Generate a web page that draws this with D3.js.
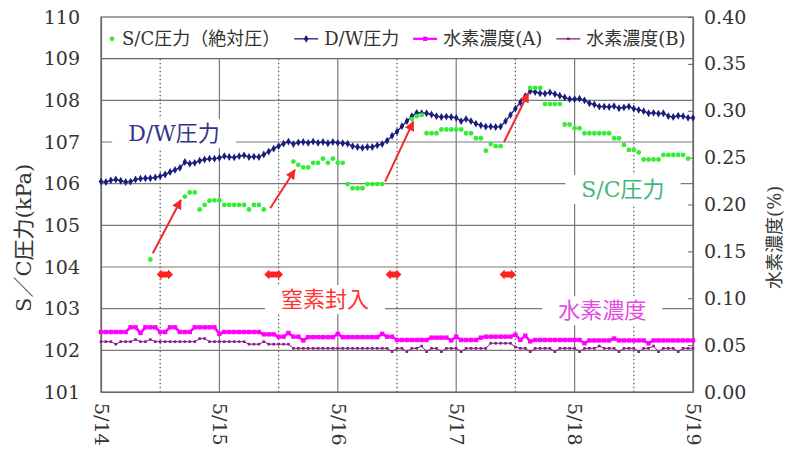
<!DOCTYPE html>
<html>
<head>
<meta charset="utf-8">
<script src="https://cdn.jsdelivr.net/npm/d3@7"></script>
<style>
  body { margin: 0; background: #fff; }
  svg { display: block; }
</style>
</head>
<body>
<svg id="chart" width="791" height="459"></svg>
<script>
// ---- data (hourly, starting 5/14 00:00) ----
const days = ["5/14", "5/15", "5/16", "5/17", "5/18", "5/19"];
const leftTicks = [101, 102, 103, 104, 105, 106, 107, 108, 109, 110];
const rightTicks = [0, 0.05, 0.10, 0.15, 0.20, 0.25, 0.30, 0.35, 0.40];

// D/W pressure (kPa), one value per hour, h = 0..120
const dwPressure = [
  106.05, 106.04, 106.08, 106.10, 106.07, 106.04, 106.05, 106.10, 106.12, 106.13, 106.13, 106.15,
  106.18, 106.22, 106.28, 106.33, 106.38, 106.52, 106.48, 106.50, 106.55, 106.58, 106.60, 106.60,
  106.62, 106.66, 106.64, 106.63, 106.66, 106.68, 106.64, 106.65, 106.64, 106.70, 106.77, 106.84,
  106.90, 106.96, 107.01, 106.95, 106.99, 107.00, 106.98, 107.01, 106.98, 107.00, 106.97, 107.00,
  106.98, 106.97, 106.96, 106.90, 106.88, 106.86, 106.88, 106.88, 106.92, 106.95, 107.03, 107.15,
  107.25, 107.38, 107.50, 107.62, 107.70, 107.69, 107.69, 107.66, 107.62, 107.60, 107.61, 107.60,
  107.58, 107.50, 107.55, 107.50, 107.44, 107.40, 107.37, 107.37, 107.36, 107.37, 107.50, 107.65,
  107.80, 107.95, 108.10, 108.22, 108.20, 108.17, 108.16, 108.19, 108.15, 108.11, 108.07, 108.03,
  108.03, 108.04, 108.00, 107.93, 107.90, 107.85, 107.85, 107.84, 107.86, 107.81, 107.83, 107.85,
  107.80, 107.77, 107.74, 107.69, 107.70, 107.68, 107.69, 107.62, 107.60, 107.63, 107.62, 107.58,
  107.58
];

// S/C pressure (absolute, kPa): sampled hours and values
const scHours = [
  10, 17, 18, 19, 20, 21, 22, 23, 24, 25, 26, 27, 28, 29, 30, 31, 32, 33,
  39, 40, 41, 42, 43, 44, 45, 46, 47, 48, 49,
  50, 51, 52, 53, 54, 55, 56, 57,
  63, 64, 65, 66, 67, 68, 69, 70, 71, 72, 73, 74, 75, 76, 77, 78, 79, 80, 81,
  87, 88, 89, 90, 91, 92, 93, 94, 95, 96, 97, 98, 99, 100, 101, 102, 103,
  104, 105, 106, 107, 108, 109, 110, 111, 112, 113, 114, 115, 116, 117, 118, 119
];
const scPressure = [
  104.18, 105.69, 105.79, 105.79, 105.38, 105.49, 105.59, 105.60, 105.60, 105.49, 105.49, 105.49, 105.49, 105.49, 105.38, 105.49, 105.49, 105.38,
  106.53, 106.45, 106.39, 106.39, 106.50, 106.50, 106.60, 106.50, 106.60, 106.50, 106.50,
  105.99, 105.89, 105.89, 105.89, 105.99, 105.99, 105.99, 105.99,
  107.55, 107.62, 107.65, 107.21, 107.21, 107.21, 107.30, 107.30, 107.30, 107.30, 107.30, 107.21, 107.21, 107.09, 107.09, 106.79, 106.95, 106.90, 106.90,
  108.30, 108.30, 108.30, 107.91, 107.91, 107.91, 107.91, 107.42, 107.42, 107.33, 107.33, 107.21, 107.21, 107.21, 107.21, 107.21, 107.21,
  107.09, 107.09, 106.93, 106.81, 106.81, 106.75, 106.58, 106.58, 106.58, 106.58, 106.69, 106.69, 106.69, 106.69, 106.69, 106.60
];

// Hydrogen concentration (%), hourly, h = 0..120
const h2A = [
  0.064, 0.064, 0.064, 0.064, 0.064, 0.064, 0.069, 0.069, 0.063, 0.069, 0.069, 0.069,
  0.064, 0.064, 0.069, 0.069, 0.064, 0.064, 0.064, 0.069, 0.069, 0.069, 0.069, 0.069,
  0.062, 0.064, 0.064, 0.064, 0.064, 0.064, 0.064, 0.064, 0.064, 0.0615, 0.0615, 0.0615,
  0.059, 0.059, 0.063, 0.059, 0.059, 0.055, 0.0585, 0.0585, 0.0585, 0.0585, 0.0585, 0.0585,
  0.062, 0.0585, 0.0585, 0.0585, 0.0585, 0.0585, 0.0585, 0.0585, 0.0585, 0.062, 0.059, 0.059,
  0.0555, 0.0555, 0.0555, 0.0555, 0.0555, 0.0555, 0.0555, 0.058, 0.058, 0.058, 0.058, 0.055,
  0.059, 0.0555, 0.0555, 0.0555, 0.0555, 0.058, 0.059, 0.059, 0.059, 0.059, 0.059, 0.059,
  0.061, 0.0555, 0.060, 0.054, 0.0555, 0.0555, 0.0555, 0.0555, 0.0555, 0.0555, 0.0555, 0.0555,
  0.0555, 0.0555, 0.052, 0.055, 0.055, 0.055, 0.055, 0.055, 0.057, 0.055, 0.055, 0.055,
  0.055, 0.055, 0.055, 0.052, 0.055, 0.055, 0.055, 0.055, 0.055, 0.055, 0.055, 0.055,
  0.055
];
const h2B = [
  0.0537, 0.0537, 0.0537, 0.051, 0.0537, 0.0537, 0.0537, 0.056, 0.0537, 0.0537, 0.056, 0.0537,
  0.0537, 0.0537, 0.0537, 0.0537, 0.0537, 0.0537, 0.0537, 0.0537, 0.057, 0.057, 0.0537, 0.0537,
  0.0537, 0.0537, 0.0537, 0.0537, 0.0537, 0.0537, 0.051, 0.051, 0.051, 0.0537, 0.051, 0.051,
  0.051, 0.051, 0.051, 0.0466, 0.0466, 0.0466, 0.0466, 0.0466, 0.0466, 0.0466, 0.0466, 0.0466,
  0.0466, 0.0466, 0.0466, 0.0466, 0.0466, 0.0466, 0.0466, 0.0466, 0.0466, 0.0466, 0.0466, 0.043,
  0.0466, 0.0466, 0.043, 0.0466, 0.0466, 0.049, 0.043, 0.0466, 0.0466, 0.043, 0.0466, 0.0466,
  0.0466, 0.043, 0.0466, 0.0466, 0.0466, 0.0466, 0.0466, 0.052, 0.052, 0.052, 0.052, 0.052,
  0.048, 0.0466, 0.0466, 0.043, 0.0466, 0.0466, 0.0466, 0.0466, 0.043, 0.0466, 0.0466, 0.0466,
  0.0466, 0.043, 0.0466, 0.0466, 0.0466, 0.049, 0.0466, 0.0466, 0.0466, 0.043, 0.0466, 0.0466,
  0.0466, 0.043, 0.0466, 0.0466, 0.049, 0.043, 0.0466, 0.0466, 0.0466, 0.043, 0.0466, 0.0466,
  0.0466
];

// nitrogen injection periods [start hour, end hour]
const injections = [[11.3, 14.6], [33.1, 36.9], [57.7, 60.9], [80.8, 84.1]];
// pressure-rise arrows: [h0, kPa0, h1, kPa1]
const riseArrows = [
  [10.5, 104.33, 16.2, 105.61],
  [34.3, 105.41, 39.3, 106.33],
  [57.6, 106.05, 63.3, 107.49],
  [81.7, 107.00, 86.6, 108.17]
];
// text notes placed in data space: [text, hour, kPa]
const notes = [
  ["D/W圧力", 14.8, 107.20],
  ["S/C圧力", 105.8, 105.86],
  ["窒素封入", 45.4, 103.22],
  ["水素濃度", 101.6, 102.95]
];
const legendNames = ["S/C圧力（絶対圧）", "D/W圧力", "水素濃度(A)", "水素濃度(B)"];

// ---- layout ----
const svg = d3.select("#chart");
const plot = { left: 101, right: 693, top: 17, bottom: 392 };
const serif = "'DejaVu Serif', 'Noto Sans CJK JP', serif";
const C = {
  grid: "#7a7a7a", frame: "#666", text: "#333",
  dw: "#1c1c7c", sc: "#33ee33", a: "#ff00ff", b: "#8a1a8a", red: "#ee2a2a"
};
const noteColors = ["#34348f", "#3fb87a", "#ff3333", "#e24be2"];

const x = d3.scaleLinear().domain([0, 120]).range([plot.left, plot.right]);
const yL = d3.scaleLinear().domain([101, 110]).range([plot.bottom, plot.top]);
const yR = d3.scaleLinear().domain([0, 0.40]).range([plot.bottom, plot.top]);

const defs = svg.append("defs");
defs.append("marker").attr("id", "head")
  .attr("viewBox", "0 0 10 10").attr("refX", 9).attr("refY", 5)
  .attr("markerWidth", 5).attr("markerHeight", 5).attr("orient", "auto")
  .append("path").attr("d", "M0,0 L10,5 L0,10 z").attr("fill", C.red);

// ---- grid ----
const grid = svg.append("g");
grid.selectAll("line.h").data(leftTicks.filter(v => v > 101 && v < 109)).join("line")
  .attr("x1", plot.left).attr("x2", plot.right)
  .attr("y1", d => yL(d)).attr("y2", d => yL(d))
  .attr("stroke", C.grid).attr("stroke-width", 1.2);
grid.selectAll("line.day").data([24, 48, 72, 96]).join("line")
  .attr("x1", d => x(d)).attr("x2", d => x(d))
  .attr("y1", yL(109)).attr("y2", plot.bottom)
  .attr("stroke", C.grid).attr("stroke-width", 1.2);
grid.selectAll("line.noon").data([12, 36, 60, 84, 108]).join("line")
  .attr("x1", d => x(d)).attr("x2", d => x(d))
  .attr("y1", yL(109)).attr("y2", plot.bottom)
  .attr("stroke", "#555").attr("stroke-width", 1.2).attr("stroke-dasharray", "1.5,2.5");

// ---- text notes with white backing (they cut the grid) ----
const noteG = svg.append("g");
notes.forEach((n, i) => {
  const t = noteG.append("text")
    .attr("x", x(n[1])).attr("y", yL(n[2]))
    .attr("text-anchor", "middle").attr("dominant-baseline", "central")
    .attr("font-family", serif).attr("font-size", 22)
    .attr("fill", noteColors[i]).text(n[0]);
  const bb = t.node().getBBox();
  noteG.insert("rect", "text")
    .attr("x", bb.x - 16).attr("y", bb.y - 2)
    .attr("width", bb.width + 32).attr("height", bb.height + 4)
    .attr("fill", "#fff");
});

// ---- frame & legend band ----
svg.append("rect")
  .attr("x", plot.left).attr("y", plot.top)
  .attr("width", plot.right - plot.left).attr("height", plot.bottom - plot.top)
  .attr("fill", "none").attr("stroke", C.frame).attr("stroke-width", 1.2);
svg.append("line")
  .attr("x1", plot.left).attr("x2", plot.right)
  .attr("y1", yL(109)).attr("y2", yL(109))
  .attr("stroke", C.frame).attr("stroke-width", 1.2);

// ---- axes ----
const axL = svg.append("g").attr("transform", `translate(${plot.left},0)`)
  .call(d3.axisLeft(yL).tickValues(leftTicks).tickSize(0).tickPadding(21).tickFormat(d3.format("d")));
const axR = svg.append("g").attr("transform", `translate(${plot.right},0)`)
  .call(d3.axisRight(yR).tickValues(rightTicks).tickSizeInner(-5).tickSizeOuter(0).tickPadding(11).tickFormat(d3.format(".2f")));
const axB = svg.append("g").attr("transform", `translate(0,${plot.bottom})`)
  .call(d3.axisBottom(x).tickValues([0, 24, 48, 72, 96, 120]).tickSize(0).tickFormat((d, i) => days[i]));
[axL, axR, axB].forEach(a => {
  a.select(".domain").attr("stroke", C.frame).attr("stroke-width", 1.2);
  a.selectAll(".tick line").attr("stroke", C.frame);
  a.selectAll("text").attr("font-family", serif).attr("font-size", 19).attr("fill", C.text);
});
axB.selectAll("text")
  .attr("transform", "rotate(90)").attr("text-anchor", "start")
  .attr("x", 11).attr("y", 0).attr("dy", "0.35em");

svg.append("text")
  .attr("transform", `translate(24,${(yL(104.7) )}) rotate(-90)`)
  .attr("text-anchor", "middle").attr("dominant-baseline", "central")
  .attr("font-family", serif).attr("font-size", 21).attr("fill", C.text)
  .text("S／C圧力(kPa)");
svg.append("text")
  .attr("transform", `translate(774,${yR(0.165)}) rotate(-90)`)
  .attr("text-anchor", "middle").attr("dominant-baseline", "central")
  .attr("font-family", serif).attr("font-size", 18).attr("fill", C.text)
  .text("水素濃度(%)");

// ---- series ----
// hydrogen B
svg.append("path").datum(h2B)
  .attr("d", d3.line().x((d, i) => x(i)).y(d => yR(d)))
  .attr("fill", "none").attr("stroke", C.b).attr("stroke-width", 1);
svg.append("g").selectAll("rect").data(h2B).join("rect")
  .attr("x", (d, i) => x(i) - 1.3).attr("y", d => yR(d) - 1.3)
  .attr("width", 2.6).attr("height", 2.6).attr("fill", C.b);

// hydrogen A
svg.append("path").datum(h2A)
  .attr("d", d3.line().x((d, i) => x(i)).y(d => yR(d)))
  .attr("fill", "none").attr("stroke", C.a).attr("stroke-width", 2.6);
svg.append("g").selectAll("rect").data(h2A).join("rect")
  .attr("x", (d, i) => x(i) - 2.2).attr("y", d => yR(d) - 2.2)
  .attr("width", 4.4).attr("height", 4.4).attr("fill", C.a);

// D/W pressure
svg.append("path").datum(dwPressure)
  .attr("d", d3.line().x((d, i) => x(i)).y(d => yL(d)))
  .attr("fill", "none").attr("stroke", C.dw).attr("stroke-width", 1.4);
const diamond = d3.symbol().type(d3.symbolDiamond).size(18);
svg.append("g").selectAll("path").data(dwPressure).join("path")
  .attr("transform", (d, i) => `translate(${x(i)},${yL(d)})`)
  .attr("d", diamond).attr("fill", C.dw);

// S/C pressure
svg.append("g").selectAll("circle").data(scPressure).join("circle")
  .attr("cx", (d, i) => x(scHours[i])).attr("cy", d => yL(d))
  .attr("r", 2.4).attr("fill", C.sc);

// ---- annotations ----
svg.append("g").selectAll("line").data(riseArrows).join("line")
  .attr("x1", d => x(d[0])).attr("y1", d => yL(d[1]))
  .attr("x2", d => x(d[2])).attr("y2", d => yL(d[3]))
  .attr("stroke", C.red).attr("stroke-width", 2).attr("marker-end", "url(#head)");

const injY = yL(103.82);
svg.append("g").selectAll("path").data(injections).join("path")
  .attr("d", d => {
    const a = x(d[0]), b = x(d[1]), hh = 5, sh = 3, hl = 5;
    return `M${a},${injY} L${a + hl},${injY - hh} L${a + hl},${injY - sh} L${b - hl},${injY - sh} ` +
      `L${b - hl},${injY - hh} L${b},${injY} L${b - hl},${injY + hh} L${b - hl},${injY + sh} ` +
      `L${a + hl},${injY + sh} L${a + hl},${injY + hh} Z`;
  })
  .attr("fill", "#ff2020");

// ---- legend ----
const leg = svg.append("g");
const legY = (yL(109) + yL(110)) / 2 + 1;
let cursor = plot.left + 7;
legendNames.forEach((name, i) => {
  if (i === 0) {
    leg.append("circle").attr("cx", cursor + 4).attr("cy", legY).attr("r", 2.4).attr("fill", C.sc);
    cursor += 14;
  } else {
    const col = [null, C.dw, C.a, C.b][i];
    leg.append("line").attr("x1", cursor).attr("x2", cursor + 24)
      .attr("y1", legY).attr("y2", legY)
      .attr("stroke", col).attr("stroke-width", i === 2 ? 2.2 : 1.3);
    if (i === 1) {
      leg.append("path").attr("transform", `translate(${cursor + 12},${legY})`).attr("d", diamond).attr("fill", col);
    } else {
      const s = i === 2 ? 4.4 : 2.6;
      leg.append("rect").attr("x", cursor + 12 - s / 2).attr("y", legY - s / 2)
        .attr("width", s).attr("height", s).attr("fill", col);
    }
    cursor += 30;
  }
  const t = leg.append("text").attr("x", cursor).attr("y", legY)
    .attr("dominant-baseline", "central")
    .attr("font-family", serif).attr("font-size", 18).attr("fill", C.text).text(name);
  cursor += t.node().getComputedTextLength() + 14;
});
</script>
</body>
</html>
